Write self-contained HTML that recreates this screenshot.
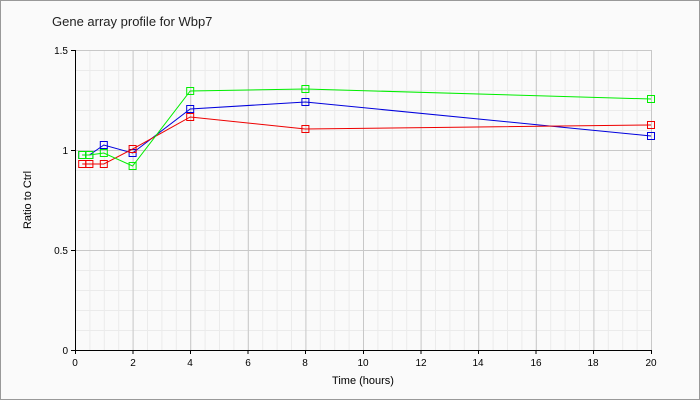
<!DOCTYPE html><html><head><style>body{margin:0}svg{display:block;font-family:"Liberation Sans",sans-serif}</style></head><body>
<svg width="700" height="400" xmlns="http://www.w3.org/2000/svg">
<defs>
<pattern id="mn" x="75" y="50" width="14.4" height="20" patternUnits="userSpaceOnUse"><path d="M0.5 0V20M0 0.5H14.4" stroke="#ebebeb" fill="none"/></pattern>
<pattern id="mj" x="75" y="50" width="57.6" height="100" patternUnits="userSpaceOnUse"><path d="M0.5 0V100M0 0.5H57.6" stroke="#c8c8c8" fill="none"/></pattern>
</defs>
<rect x="0.5" y="0.5" width="699" height="399" fill="#fafafa" stroke="#999"/>
<text x="52" y="26" font-size="13" fill="#222">Gene array profile for Wbp7</text>
<rect x="75" y="50" width="577" height="301" fill="url(#mn)"/>
<rect x="75" y="50" width="577" height="301" fill="url(#mj)"/>
<path d="M75.5 50V350.5H651" stroke="#000" fill="none"/>
<g stroke="#000">
<line x1="75.5" y1="350" x2="75.5" y2="354"/><line x1="133" y1="350" x2="133" y2="354"/><line x1="190.5" y1="350" x2="190.5" y2="354"/><line x1="248" y1="350" x2="248" y2="354"/><line x1="305.5" y1="350" x2="305.5" y2="354"/><line x1="363.5" y1="350" x2="363.5" y2="354"/><line x1="421" y1="350" x2="421" y2="354"/><line x1="478.5" y1="350" x2="478.5" y2="354"/><line x1="536" y1="350" x2="536" y2="354"/><line x1="593.5" y1="350" x2="593.5" y2="354"/><line x1="651.5" y1="350" x2="651.5" y2="354"/>
<line x1="71" y1="350.5" x2="75" y2="350.5"/><line x1="71" y1="250.5" x2="75" y2="250.5"/><line x1="71" y1="150.5" x2="75" y2="150.5"/><line x1="71" y1="50.5" x2="75" y2="50.5"/>
</g>
<g font-size="10" text-anchor="middle">
<text x="75" y="366">0</text><text x="133" y="366">2</text><text x="190" y="366">4</text><text x="248" y="366">6</text><text x="305" y="366">8</text><text x="363" y="366">10</text><text x="421" y="366">12</text><text x="478" y="366">14</text><text x="536" y="366">16</text><text x="593" y="366">18</text><text x="651" y="366">20</text>
</g>
<g font-size="10" text-anchor="end">
<text x="68" y="354">0</text><text x="68" y="254">0.5</text><text x="68" y="154">1</text><text x="68" y="54">1.5</text>
</g>
<text x="363" y="384" font-size="11" text-anchor="middle">Time (hours)</text>
<text transform="translate(31,200) rotate(-90)" font-size="11" text-anchor="middle">Ratio to Ctrl</text>
<g fill="none" stroke="#0000dd">
<polyline points="82.2,155 89.4,155 103.8,145 132.6,153 190.2,109 305.4,102 651,136"/>
<rect x="78.7" y="151.5" width="7" height="7"/><rect x="85.9" y="151.5" width="7" height="7"/><rect x="100.3" y="141.5" width="7" height="7"/><rect x="129.1" y="149.5" width="7" height="7"/><rect x="186.7" y="105.5" width="7" height="7"/><rect x="301.9" y="98.5" width="7" height="7"/><rect x="647.5" y="132.5" width="7" height="7"/>
</g>
<g fill="none" stroke="#ee0000">
<polyline points="82.2,164 89.4,164 103.8,164 132.6,149 190.2,117 305.4,129 651,125"/>
<rect x="78.7" y="160.5" width="7" height="7"/><rect x="85.9" y="160.5" width="7" height="7"/><rect x="100.3" y="160.5" width="7" height="7"/><rect x="129.1" y="145.5" width="7" height="7"/><rect x="186.7" y="113.5" width="7" height="7"/><rect x="301.9" y="125.5" width="7" height="7"/><rect x="647.5" y="121.5" width="7" height="7"/>
</g>
<g fill="none" stroke="#00ee00">
<polyline points="82.2,155 89.4,155 103.8,153 132.6,166 190.2,91 305.4,89 651,99"/>
<rect x="78.7" y="151.5" width="7" height="7"/><rect x="85.9" y="151.5" width="7" height="7"/><rect x="100.3" y="149.5" width="7" height="7"/><rect x="129.1" y="162.5" width="7" height="7"/><rect x="186.7" y="87.5" width="7" height="7"/><rect x="301.9" y="85.5" width="7" height="7"/><rect x="647.5" y="95.5" width="7" height="7"/>
</g>
</svg></body></html>
